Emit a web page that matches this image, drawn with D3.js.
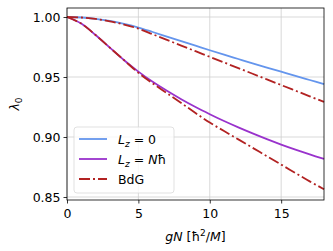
<!DOCTYPE html>
<html><head><meta charset="utf-8">
<script src="https://cdn.jsdelivr.net/npm/d3@7"></script>
<style>body{margin:0;background:#fff}svg{display:block;font-family:"DejaVu Sans",sans-serif}</style>
</head><body>
<script>
const xs = [0,1,2,3,4,5,6,7,8,9,10,11,12,13,14,15,16,17,18];
const lz0 = [1.000,0.9996,0.9985,0.9967,0.9942,0.9912,0.9875,0.9837,0.9799,0.9761,0.9723,0.9686,0.9650,0.9614,0.9579,0.9544,0.9509,0.9475,0.9441];
const bdgUpper = [1.000,0.9996,0.9984,0.9964,0.9937,0.9903,0.9856,0.9809,0.9762,0.9715,0.9668,0.9621,0.9574,0.9527,0.9480,0.9433,0.9386,0.9339,0.9292];
const lzN = [1.000,0.9945,0.9850,0.9745,0.9640,0.9545,0.9460,0.9385,0.9315,0.9250,0.9190,0.9133,0.9080,0.9030,0.8982,0.8937,0.8895,0.8855,0.8817];
const bdgLower = [1.000,0.9945,0.9850,0.9745,0.9640,0.9535,0.9447,0.9365,0.9283,0.9200,0.9120,0.9050,0.8980,0.8910,0.8840,0.8770,0.8700,0.8630,0.8565];
const xTicks = [0,5,10,15];
const yTicks = [0.85,0.90,0.95,1.00];

const W=333,H=251, m={l:67,r:9,t:8,b:51};
const svg=d3.select("body").append("svg").attr("width",W).attr("height",H);
const x=d3.scaleLinear().domain([0,18]).range([m.l,W-m.r]);
const y=d3.scaleLinear().domain([0.8475,1.0075]).range([H-m.b,m.t]);

// grid
svg.append("g").selectAll("line").data(xTicks).join("line")
 .attr("x1",d=>x(d)).attr("x2",d=>x(d)).attr("y1",m.t).attr("y2",H-m.b)
 .attr("stroke","#cfcfcf").attr("stroke-width",0.8);
svg.append("g").selectAll("line").data(yTicks).join("line")
 .attr("y1",d=>y(d)).attr("y2",d=>y(d)).attr("x1",m.l).attr("x2",W-m.r)
 .attr("stroke","#cfcfcf").attr("stroke-width",0.8);

const dash="11,3,2,3";
const line=arr=>d3.line().x((d,i)=>x(xs[i])).y(d=>y(d)).curve(d3.curveCatmullRom)(arr);
const g=svg.append("g");
g.append("path").attr("d",line(lz0)).attr("fill","none").attr("stroke","#6495ed").attr("stroke-width",1.8);
g.append("path").attr("d",line(lzN)).attr("fill","none").attr("stroke","#9932cc").attr("stroke-width",1.8);
g.append("path").attr("d",line(bdgUpper)).attr("fill","none").attr("stroke","#b22222").attr("stroke-width",1.8).attr("stroke-dasharray",dash);
g.append("path").attr("d",line(bdgLower)).attr("fill","none").attr("stroke","#b22222").attr("stroke-width",1.8).attr("stroke-dasharray",dash);

// axes
const xa=svg.append("g").attr("transform",`translate(0,${H-m.b})`).call(d3.axisBottom(x).tickValues(xTicks).tickSize(3.5).tickSizeOuter(0).tickFormat(d3.format("d")));
const ya=svg.append("g").attr("transform",`translate(${m.l},0)`).call(d3.axisLeft(y).tickValues(yTicks).tickSize(3.5).tickSizeOuter(0).tickFormat(d3.format(".2f")));
[xa,ya].forEach(a=>{a.selectAll("text").attr("font-size",12.5).attr("fill","#000").attr("font-family","DejaVu Sans");a.select(".domain").remove();a.selectAll("line").attr("stroke","#000").attr("stroke-width",0.8);});
xa.selectAll("text").attr("dy","0.95em");
ya.selectAll("text").attr("dy","0.35em");
svg.append("rect").attr("x",m.l).attr("y",m.t).attr("width",W-m.r-m.l).attr("height",H-m.b-m.t).attr("fill","none").attr("stroke","#000").attr("stroke-width",0.8);

// labels
const yl=svg.append("text").attr("transform",`translate(19,${(m.t+H-m.b)/2}) rotate(-90)`).attr("text-anchor","middle").attr("font-size",12.5);
yl.append("tspan").attr("font-style","italic").text("λ");
yl.append("tspan").attr("font-size",9).attr("dy",3).text("0");
const xl=svg.append("text").attr("x",(m.l+W-m.r)/2).attr("y",241).attr("text-anchor","middle").attr("font-size",12.5);
xl.append("tspan").attr("font-style","italic").text("gN");
xl.append("tspan").text(" [ħ");
xl.append("tspan").attr("font-size",9).attr("dy",-5).text("2");
xl.append("tspan").attr("dy",5).text("/");
xl.append("tspan").attr("font-style","italic").text("M");
xl.append("tspan").text("]");

// legend
const lg=svg.append("g").attr("transform","translate(74,127)");
lg.append("rect").attr("width",100).attr("height",66).attr("rx",3).attr("fill","#fff").attr("fill-opacity",0.8).attr("stroke","#d9d9d9").attr("stroke-width",0.8);
const items=[{c:"#6495ed",d:null,t:true},{c:"#9932cc",d:null,t:true},{c:"#b22222",d:dash,t:false}];
items.forEach((it,i)=>{
 const yy=12+i*20;
 lg.append("line").attr("x1",5).attr("x2",33).attr("y1",yy).attr("y2",yy).attr("stroke",it.c).attr("stroke-width",1.8).attr("stroke-dasharray",it.d);
 const t=lg.append("text").attr("x",44).attr("y",yy+4.5).attr("font-size",12.5);
 if(it.t){
  t.append("tspan").attr("font-style","italic").text("L");
  t.append("tspan").attr("font-style","italic").attr("font-size",9).attr("dy",3).text("z");
  if(i===0){t.append("tspan").attr("dy",-3).text(" = 0");}
  else{t.append("tspan").attr("dy",-3).text(" = ");t.append("tspan").attr("font-style","italic").text("N");t.append("tspan").text("ħ");}
 } else t.text("BdG");
});
</script>
</body></html>
